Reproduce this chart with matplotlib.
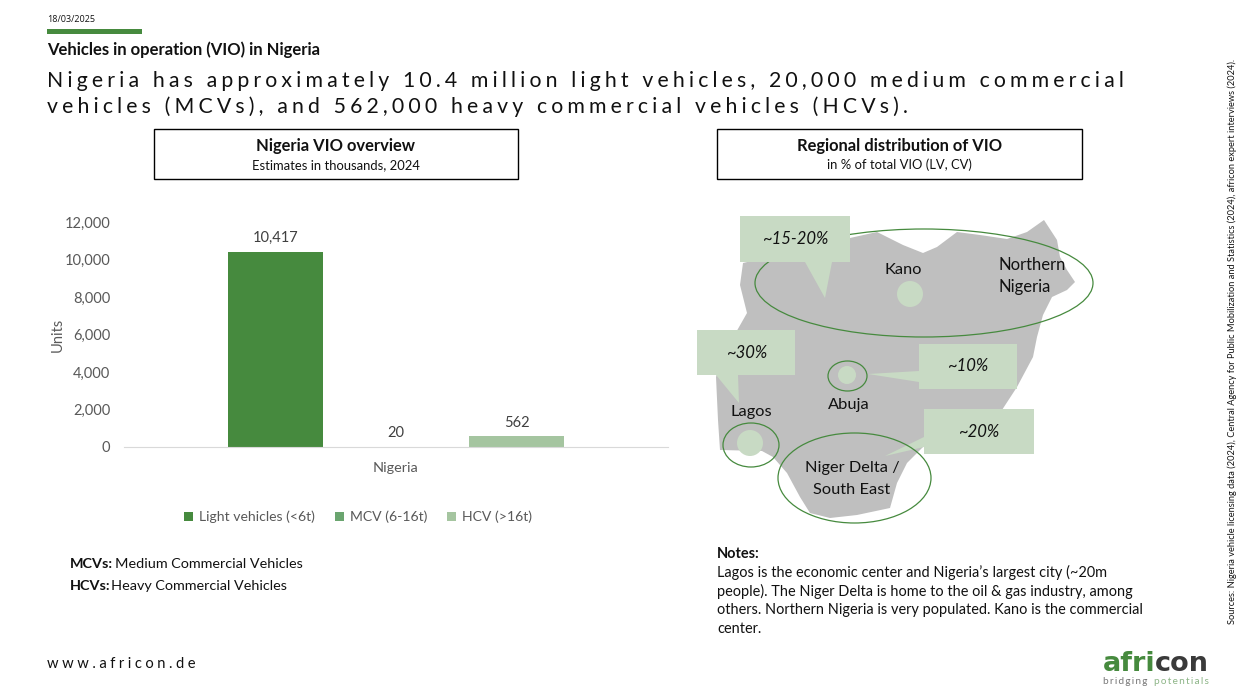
import matplotlib
matplotlib.use("Agg")
import matplotlib.pyplot as plt
from matplotlib.patches import Ellipse, Polygon, Rectangle

plt.rcParams["font.family"] = ["Lato", "DejaVu Sans"]

# Data
CATEGORY = ["Nigeria"]
SERIES = ["Light vehicles (<6t)", "MCV (6-16t)", "HCV (>16t)"]
VALUES = [10417, 20, 562]
COLORS = ["#468A3E", "#6AA56F", "#A5C5A0"]
OFFSETS = [-1, 0, 1]
Y_TICKS = [0, 2000, 4000, 6000, 8000, 10000, 12000]

TITLE_LINES = [
    "Nigeria has approximately 10.4 million light vehicles, 20,000 medium commercial",
    "vehicles (MCVs), and 562,000 heavy commercial vehicles (HCVs).",
]
NOTES = [
    "Lagos is the economic center and Nigeria\u2019s largest city (~20m",
    "people). The Niger Delta is home to the oil & gas industry, among",
    "others. Northern Nigeria is very populated. Kano is the commercial",
    "center.",
]
SOURCES = (
    "Sources: Nigeria vehicle licensing data (2024), Central Agency for Public "
    "Mobilization and Statistics (2024), africon expert interviews (2024)."
)

# Map shape, traced in picture pixels
MAP_OUTLINE = [
    (850, 238), (877, 232), (903, 245), (923, 253), (937, 247), (957, 232),
    (980, 235), (1007, 239), (1027, 232), (1044, 220), (1057, 240), (1060, 257),
    (1067, 270), (1075, 282), (1067, 290), (1052, 297), (1043, 315), (1037, 337),
    (1033, 357), (1017, 387), (1002, 410), (923, 447), (907, 463), (897, 483),
    (890, 508), (857, 515), (830, 518), (810, 513), (800, 497), (787, 473),
    (773, 457), (762, 451), (720, 450), (718, 420), (716, 377), (722, 357),
    (747, 313), (740, 285), (743, 263),
]
# label, x, y
CALLOUTS = [
    ("~15-20%", 795, 239, [(740, 216), (850, 216), (850, 262), (832, 262), (825, 298), (805, 262), (740, 262)]),
    ("~30%", 747, 353, [(697, 330), (795, 330), (795, 375), (738, 375), (739, 403), (716, 375), (697, 375)]),
    ("~10%", 968, 366, [(919, 344), (1017, 344), (1017, 389), (919, 389), (919, 382), (868, 374), (919, 371)]),
    ("~20%", 979, 432, [(924, 409), (1034, 409), (1034, 454), (924, 454), (924, 447), (885, 456), (924, 437)]),
]
PLACES = [
    ("Kano", 903, 270), ("Abuja", 849, 405), ("Lagos", 751, 412),
    ("Niger Delta /", 852, 468), ("South East", 852, 490),
]

GREEN = "#468A3E"
CALLOUT_GREEN = "#C8DAC4"
TICK_GREY = "#595959"
TEXT = "#111111"


def spaced(text, n=1):
    # hair spaces between letters for the tracked headline look
    return ("\u200a" * n).join(text)


fig = plt.figure(figsize=(12.47, 6.99), dpi=100)

# Overlay in picture pixels for the slide furniture
page = fig.add_axes([0, 0, 1, 1])
page.set_xlim(0, 1247)
page.set_ylim(699, 0)
page.axis("off")

page.text(47, 19, "18/03/2025", fontsize=6.5, family=["Open Sans"], va="center", color=TEXT)
page.add_patch(Rectangle((47, 29), 95, 5, color=GREEN, lw=0))
page.text(47, 49.5, "Vehicles in operation (VIO) in Nigeria", fontsize=12, weight="bold", va="center", color=TEXT)
for line, y in zip(TITLE_LINES, [81, 107]):
    page.text(47, y, spaced(line, 3), fontsize=15.3, va="center", color=TEXT)

# Panel headers
HEADERS = [
    (154, 364, "Nigeria VIO overview", "Estimates in thousands, 2024"),
    (717, 365, "Regional distribution of VIO", "in % of total VIO (LV, CV)"),
]
for x, w, head, sub in HEADERS:
    page.add_patch(Rectangle((x, 129), w, 50, fc="white", ec="black", lw=1))
    page.text(x + w / 2, 146, head, fontsize=11.9, weight="bold", ha="center", va="center", color=TEXT)
    page.text(x + w / 2, 165, sub, fontsize=9.4, ha="center", va="center", color=TEXT)

# Map
page.add_patch(Polygon(MAP_OUTLINE, closed=True, fc="#BFBFBF", ec="none", zorder=1))
for cx, cy, r in [(910, 294, 13), (847, 375, 9), (750, 443, 13)]:
    page.add_patch(Ellipse((cx, cy), 2 * r, 2 * r, fc=CALLOUT_GREEN, ec="none", zorder=2))
for cx, cy, w, h in [(924, 283, 338, 108), (847.5, 376, 39, 30), (751, 445, 56, 44)]:
    page.add_patch(Ellipse((cx, cy), w, h, fc="none", ec=GREEN, lw=0.9, zorder=3))
for label, x, y, shape in CALLOUTS:
    page.add_patch(Polygon(shape, closed=True, fc=CALLOUT_GREEN, ec="none", zorder=4))
    page.text(x, y, label, fontsize=12, style="italic", ha="center", va="center", color=TEXT, zorder=6)
page.add_patch(Ellipse((854.5, 478), 153, 90, fc="none", ec=GREEN, lw=0.9, zorder=5))
for label, x, y in PLACES:
    page.text(x, y, label, fontsize=11.8, ha="center", va="center", color=TEXT, zorder=6)
page.text(998, 265, "Northern", fontsize=12, va="center", color=TEXT, zorder=6)
page.text(998, 287, "Nigeria", fontsize=12, va="center", color=TEXT, zorder=6)

# Notes and abbreviations
page.text(70, 564, "MCVs:", fontsize=10.4, weight="bold", va="center", color=TEXT)
page.text(115, 564, "Medium Commercial Vehicles", fontsize=10.4, va="center", color=TEXT)
page.text(70, 586, "HCVs:", fontsize=10.4, weight="bold", va="center", color=TEXT)
page.text(111, 586, "Heavy Commercial Vehicles", fontsize=10.4, va="center", color=TEXT)
page.text(717, 554, "Notes:", fontsize=10.45, weight="bold", va="center", color=TEXT)
for line, y in zip(NOTES, [572, 591, 610, 629]):
    page.text(717, y, line, fontsize=10.45, va="center", color=TEXT)

# Footer
page.text(47, 664, spaced("www.africon.de", 4), fontsize=10.6, va="center", color=TEXT)
page.text(1232, 341, SOURCES, fontsize=6.7, rotation=90, ha="center", va="center", color=TEXT)
page.text(1103, 671, "afri", fontsize=19.5, weight="bold", family=["DejaVu Sans"], color=GREEN)
page.text(1155, 671, "con", fontsize=19.5, weight="bold", family=["DejaVu Sans"], color="#3A3A3A")
page.text(1103, 682, spaced("bridging", 2), fontsize=7.2, va="center", color="#777777")
page.text(1154, 682, spaced("potentials", 2), fontsize=7.2, va="center", color="#8DB587")

# Bar chart
ax = fig.add_axes([124 / 1247, 1 - 447 / 699, (668 - 124) / 1247, (447 - 222) / 699])
ax.patch.set_alpha(0)
for name, value, color, offset in zip(SERIES, VALUES, COLORS, OFFSETS):
    bars = ax.bar(offset, value, width=0.788, color=color, label=name)
    ax.bar_label(bars, labels=[f"{value:,}"], padding=5, fontsize=10.5, color="#404040")
ax.set_xlim(-2.257, 2.257)
ax.set_ylim(0, 12000)
ax.set_yticks(Y_TICKS)
ax.set_yticklabels([f"{t:,}" for t in Y_TICKS], fontsize=10.5, color=TICK_GREY)
ax.set_xticks([0])
ax.set_xticklabels(CATEGORY, fontsize=10.4, color=TICK_GREY)
ax.tick_params(length=0)
ax.tick_params(axis="x", pad=11)
ax.tick_params(axis="y", pad=10)
ax.set_ylabel("Units", fontsize=10.5, color=TICK_GREY, labelpad=0)
for side in ["top", "left", "right"]:
    ax.spines[side].set_visible(False)
ax.spines["bottom"].set_color("#D9D9D9")
ax.legend(
    loc="center", bbox_to_anchor=(358 / 1247, 1 - 517 / 699), bbox_transform=fig.transFigure,
    ncol=3, frameon=False, fontsize=10.1, labelcolor=TICK_GREY,
    handlelength=0.65, handleheight=0.65, handletextpad=0.45, columnspacing=1.4,
)

fig.savefig("out.png", dpi=100)
